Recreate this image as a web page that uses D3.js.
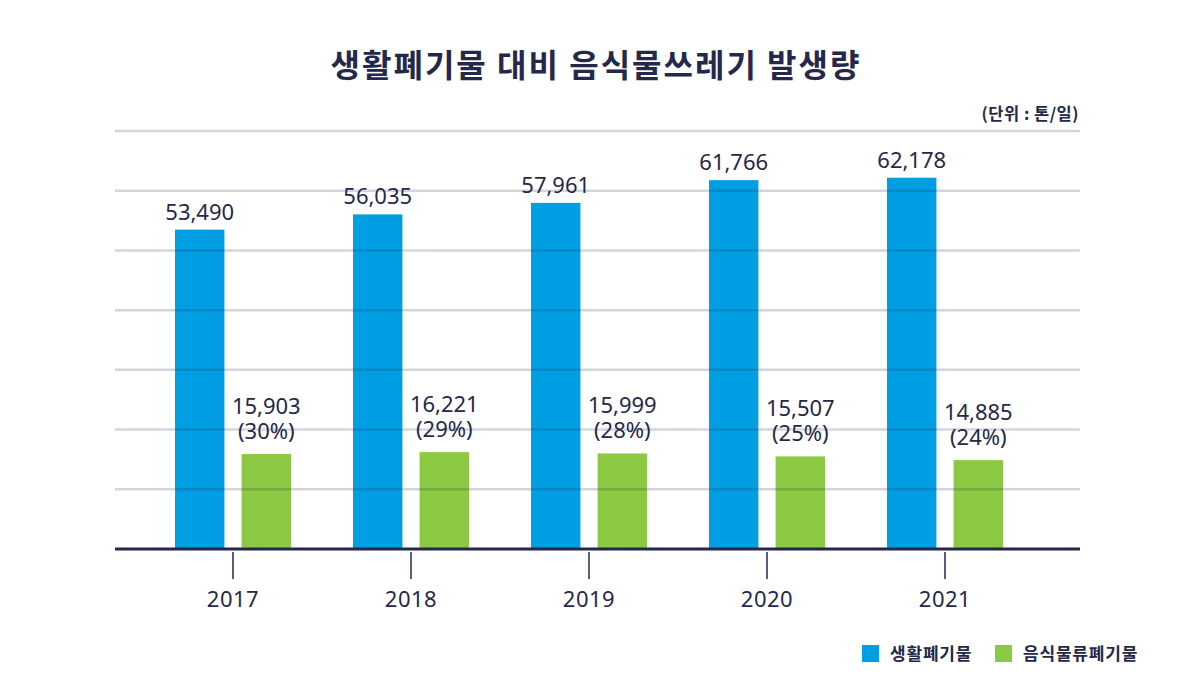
<!DOCTYPE html>
<html><head><meta charset="utf-8">
<script src="https://cdn.jsdelivr.net/npm/d3@7"></script>
<style>html,body{margin:0;padding:0;background:#fff;}svg{display:block;}</style>
</head><body>
<svg id="chart" width="1200" height="675"></svg>
<script>
const years = ["2017", "2018", "2019", "2020", "2021"];
const seriesNames = ["생활폐기물", "음식물류폐기물"];
const household = [53490, 56035, 57961, 61766, 62178];
const food = [15903, 16221, 15999, 15507, 14885];
const foodShare = ["30%", "29%", "28%", "25%", "24%"];
const yTicks = [0, 10000, 20000, 30000, 40000, 50000, 60000, 70000];

const colors = ["#009fe3", "#8cc943"];
const navy = "#24284b";
const font = "'Noto Sans', 'Noto Sans CJK KR', sans-serif";
const krFont = "'Noto Sans CJK KR', 'Noto Sans', sans-serif";

const svg = d3.select("#chart");
const left = 115, right = 1080, base = 549;

const x = d3.scaleBand().domain(years).range([144, 1034]).padding(0);
const y = d3.scaleLinear().domain([0, 70000]).range([base, 131]);
const xs = d3.scaleBand().domain(seriesNames).range([-58, 58]).paddingInner(0.258).paddingOuter(0);

const rows = years.map((yr, i) => ({year: yr, vals: [household[i], food[i]], share: foodShare[i]}));

// Title
svg.append("text").attr("x", 596).attr("y", 77).attr("text-anchor", "middle")
  .attr("font-family", krFont).attr("font-weight", "bold").attr("font-size", 32)
  .attr("letter-spacing", 2)
  .attr("fill", navy).text("생활폐기물 대비 음식물쓰레기 발생량");

// Unit
svg.append("text").attr("x", 1079).attr("y", 120).attr("text-anchor", "end")
  .attr("font-family", krFont).attr("font-weight", "bold").attr("font-size", 16.5)
  .attr("letter-spacing", 0.5)
  .attr("fill", navy).text("(단위 : 톤/일)");

// Bars
const g = svg.append("g");
const groups = g.selectAll("g.grp").data(rows).join("g")
  .attr("transform", d => `translate(${x(d.year) + x.bandwidth() / 2},0)`);
groups.selectAll("rect").data(d => d.vals.map((v, j) => ({v, j, name: seriesNames[j]})))
  .join("rect")
  .attr("x", d => xs(d.name)).attr("width", xs.bandwidth())
  .attr("y", d => y(d.v)).attr("height", d => base - y(d.v))
  .attr("fill", d => colors[d.j]);

// Gridlines (on top, translucent)
svg.append("g").selectAll("line").data(yTicks.filter(t => t > 0)).join("line")
  .attr("x1", left).attr("x2", right)
  .attr("y1", d => y(d)).attr("y2", d => y(d))
  .attr("stroke", "#2a2d50").attr("stroke-opacity", 0.2).attr("stroke-width", 2.5);

// Baseline axis
const xAxis = d3.axisBottom(x).tickSize(0).tickPadding(0);
const ax = svg.append("g").attr("transform", `translate(0,${base})`).call(xAxis);
ax.select(".domain").remove();
ax.selectAll(".tick text").remove();
ax.selectAll(".tick").append("line").attr("y1", 3).attr("y2", 30)
  .attr("stroke", navy).attr("stroke-width", 1.5);
ax.selectAll(".tick").append("text").attr("y", 58).attr("text-anchor", "middle")
  .attr("font-family", font).attr("font-size", 22).attr("fill", navy)
  .attr("letter-spacing", 0.5)
  .text(d => d);
svg.append("line").attr("x1", left).attr("x2", right).attr("y1", base).attr("y2", base)
  .attr("stroke", navy).attr("stroke-width", 3);

// Value labels
groups.append("text")
  .attr("x", xs(seriesNames[0]) + xs.bandwidth() / 2)
  .attr("y", d => y(d.vals[0]) - 10)
  .attr("text-anchor", "middle").attr("font-family", font).attr("font-size", 22)
  .attr("fill", navy).text(d => d3.format(",")(d.vals[0]));
const fl = groups.append("text")
  .attr("x", xs(seriesNames[1]) + xs.bandwidth() / 2)
  .attr("text-anchor", "middle").attr("font-family", font).attr("font-size", 22)
  .attr("fill", navy);
fl.append("tspan").attr("x", xs(seriesNames[1]) + xs.bandwidth() / 2)
  .attr("y", d => y(d.vals[1]) - 40).text(d => d3.format(",")(d.vals[1]));
fl.append("tspan").attr("x", xs(seriesNames[1]) + xs.bandwidth() / 2)
  .attr("y", d => y(d.vals[1]) - 15).text(d => `(${d.share})`);

// Legend
const legendX = [862, 995];
const lg = svg.append("g").selectAll("g").data(seriesNames).join("g")
  .attr("transform", (d, i) => `translate(${legendX[i]},645)`);
lg.append("rect").attr("width", 17).attr("height", 17).attr("fill", (d, i) => colors[i]);
lg.append("text").attr("x", 28).attr("y", 15)
  .attr("font-family", krFont).attr("font-weight", "bold").attr("font-size", 17)
  .attr("letter-spacing", 0.8)
  .attr("fill", navy).text(d => d);
</script>
</body></html>
